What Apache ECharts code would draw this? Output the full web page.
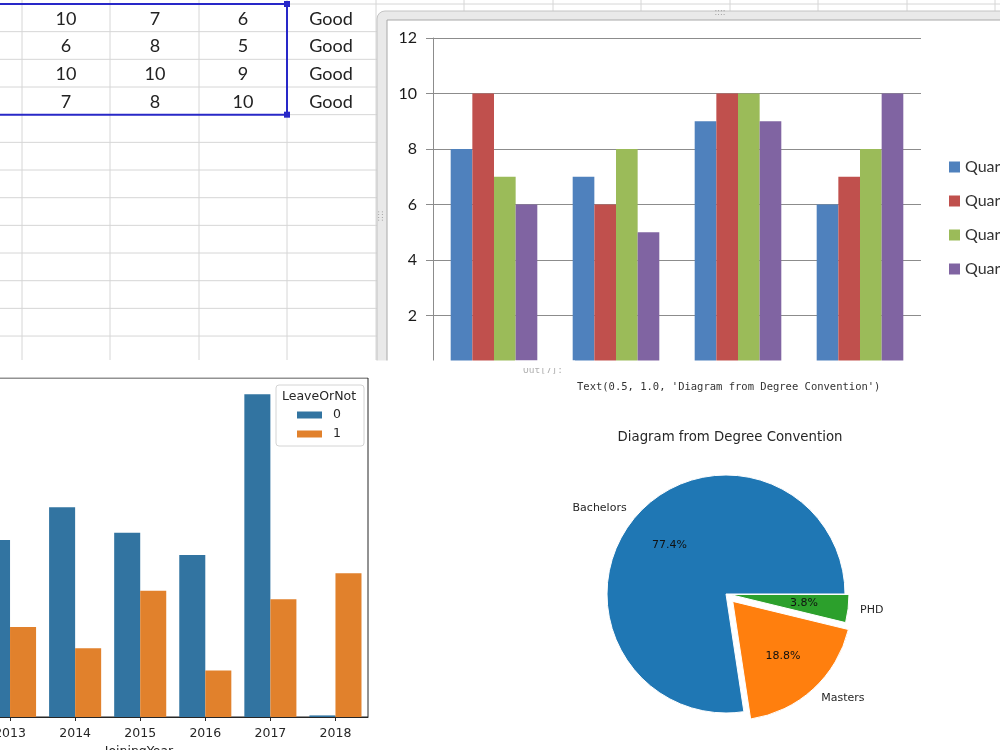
<!DOCTYPE html>
<html>
<head>
<meta charset="utf-8">
<script src="https://cdn.jsdelivr.net/npm/echarts@6/dist/echarts.min.js"></script>
<style>
  html, body { margin: 0; padding: 0; background: #fff; }
  #main { width: 1000px; height: 750px; }
</style>
</head>
<body>
<div id="main"></div>
<script>
// ---- data ----
var rowNames = ['Row 1', 'Row 2', 'Row 3', 'Row 4'];
var quarterNames = ['Quarter 1', 'Quarter 2', 'Quarter 3', 'Quarter 4'];
var quarter1 = [8, 7, 9, 6];
var quarter2 = [10, 6, 10, 7];
var quarter3 = [7, 8, 10, 8];
var quarter4 = [6, 5, 9, 10];
var rowStatus = ['Good', 'Good', 'Good', 'Good'];

var joiningYears = ['2013', '2014', '2015', '2016', '2017', '2018'];
var stayed = [445, 527, 463, 407, 811, 4];
var leftCompany = [226, 173, 317, 117, 296, 361];

var degreeNames = ['Bachelors', 'Masters', 'PHD'];
var degreeShare = [77.4, 18.8, 3.8];

// ---- styling ----
var excelColors = ['#4f81bd', '#c0504d', '#9bbb59', '#8064a2'];
var seabornColors = ['#3274a1', '#e1812c'];
var degreeColors = ['#1f77b4', '#ff7f0e', '#2ca02c'];

var myChart = echarts.init(document.getElementById('main'), null, { width: 1000, height: 750 });

// spreadsheet behind the Excel chart
var graphics = [];
var colLines = [22, 110, 199, 287, 376, 464, 553, 641, 730, 818, 907, 995];
var rowH = 27.67;
colLines.forEach(function (x) {
  graphics.push({ type: 'line', z: 0, shape: { x1: x, y1: 0, x2: x, y2: 360 }, style: { stroke: '#d6d6d6', lineWidth: 1 } });
});
for (var k = 0; k <= 12; k++) {
  var yy = 4 + k * rowH;
  graphics.push({ type: 'line', z: 0, shape: { x1: 0, y1: yy, x2: 1000, y2: yy }, style: { stroke: '#d6d6d6', lineWidth: 1 } });
}
var cellCols = [66, 155, 243, 331];
rowNames.forEach(function (r, i) {
  var cells = [quarter2[i], quarter3[i], quarter4[i], rowStatus[i]];
  cells.forEach(function (v, j) {
    graphics.push({
      type: 'text', z: 1, x: cellCols[j], y: 4 + rowH * (i + 0.5) + 1,
      style: { text: String(v), font: '18px Lato', fill: '#222', textAlign: 'center', textVerticalAlign: 'middle', align: 'center', verticalAlign: 'middle' }
    });
  });
});
// selection box
graphics.push({ type: 'rect', z: 2, shape: { x: -5, y: 4, width: 292, height: 4 * rowH }, style: { fill: 'none', stroke: '#2828c8', lineWidth: 2 } });
graphics.push({ type: 'rect', z: 2, shape: { x: 284, y: 1, width: 6, height: 6 }, style: { fill: '#2828c8' } });
graphics.push({ type: 'rect', z: 2, shape: { x: 284, y: 4 * rowH + 1, width: 6, height: 6 }, style: { fill: '#2828c8' } });
// Excel chart frame
graphics.push({ type: 'rect', z: 3, shape: { x: 377, y: 11, width: 640, height: 360, r: 8 }, style: { fill: '#e9e9e9', stroke: '#c4c4c4', lineWidth: 1 } });
graphics.push({ type: 'rect', z: 4, shape: { x: 387, y: 20, width: 630, height: 350 }, style: { fill: '#fff', stroke: '#a8a8a8', lineWidth: 1 } });
graphics.push({ type: 'text', z: 4, x: 720, y: 13, style: { text: '::::', font: '8px "DejaVu Sans"', fill: '#999', textAlign: 'center', textVerticalAlign: 'middle', align: 'center', verticalAlign: 'middle' } });
graphics.push({ type: 'text', z: 4, x: 381, y: 216, rotation: Math.PI / 2, style: { text: '::::', font: '8px "DejaVu Sans"', fill: '#999', textAlign: 'center', textVerticalAlign: 'middle', align: 'center', verticalAlign: 'middle' } });

// cut-off between the screenshots
graphics.push({ type: 'rect', z: 50, shape: { x: 0, y: 360.5, width: 1000, height: 17 }, style: { fill: '#fff' } });
graphics.push({ type: 'text', z: 51, x: 523, y: 371, style: { text: 'Out[7]:', font: '9.5px "DejaVu Sans Mono"', fill: '#b0b0b0', textVerticalAlign: 'middle', verticalAlign: 'middle' } });
graphics.push({ type: 'rect', z: 52, shape: { x: 515, y: 360.5, width: 60, height: 7.5 }, style: { fill: '#fff' } });
graphics.push({ type: 'text', z: 51, x: 577, y: 387, style: { text: "Text(0.5, 1.0, 'Diagram from Degree Convention')", font: '10.5px "DejaVu Sans Mono"', fill: '#333', textVerticalAlign: 'middle', verticalAlign: 'middle' } });

// pie title
graphics.push({ type: 'text', z: 51, x: 730, y: 438, style: { text: 'Diagram from Degree Convention', font: '13.3px "DejaVu Sans"', fill: '#262626', textAlign: 'center', textVerticalAlign: 'middle', align: 'center', verticalAlign: 'middle' } });

// seaborn legend frame and title, x axis name
graphics.push({ type: 'rect', z: 51, shape: { x: 276, y: 385, width: 88, height: 61, r: 3 }, style: { fill: 'rgba(255,255,255,0.8)', stroke: '#d4d4d4', lineWidth: 1 } });
graphics.push({ type: 'text', z: 52, x: 319, y: 397, style: { text: 'LeaveOrNot', font: '12.5px "DejaVu Sans"', fill: '#262626', textAlign: 'center', textVerticalAlign: 'middle', align: 'center', verticalAlign: 'middle' } });
graphics.push({ type: 'text', z: 51, x: 139, y: 745, style: { text: 'JoiningYear', font: '12.5px "DejaVu Sans"', fill: '#262626', textAlign: 'center', textVerticalAlign: 'top', align: 'center', verticalAlign: 'top' } });

// ---- series ----
var series = [];
[quarter1, quarter2, quarter3, quarter4].forEach(function (vals, i) {
  series.push({
    name: quarterNames[i], type: 'bar', xAxisIndex: 0, yAxisIndex: 0, data: vals,
    barGap: '0%', barCategoryGap: '29%', itemStyle: { color: excelColors[i] },
    z: 10, emphasis: { disabled: true }
  });
});
[stayed, leftCompany].forEach(function (vals, i) {
  series.push({
    name: String(i), type: 'bar', xAxisIndex: 1, yAxisIndex: 1, data: vals,
    barGap: '0%', barCategoryGap: '20%', itemStyle: { color: seabornColors[i] },
    z: 10, emphasis: { disabled: true }
  });
});

var nameLabel = { position: 'outside', formatter: '{b}', fontSize: 11, color: '#262626', fontFamily: 'DejaVu Sans', distanceToLabelLine: 0, textBorderWidth: 0 };
var pctLabel = { position: 'inside', formatter: '{d}%', fontSize: 11, color: '#111', fontFamily: 'DejaVu Sans', textBorderWidth: 0 };

function degreePie(opts) {
  return {
    type: 'pie', center: [726, 594], radius: opts.radius, startAngle: 0, clockwise: false,
    selectedMode: 'multiple', selectedOffset: opts.offset, avoidLabelOverlap: false,
    percentPrecision: 1, z: 10, silent: true, emphasis: { disabled: true },
    label: opts.label, labelLine: { show: false, length: 12, length2: 0 },
    data: degreeNames.map(function (name, i) {
      var mine = opts.items.indexOf(i) >= 0;
      return {
        name: name, value: degreeShare[i], selected: opts.selected.indexOf(i) >= 0,
        itemStyle: (mine && opts.fill) ? { color: degreeColors[i], borderColor: '#fff', borderWidth: 1 } : { color: 'rgba(0,0,0,0)', borderWidth: 0 },
        label: { show: mine }
      };
    })
  };
}
series.push(degreePie({ radius: 119, offset: 10, items: [0, 1], selected: [1], fill: true, label: nameLabel }));
series.push(degreePie({ radius: 119, offset: 4, items: [2], selected: [2], fill: true, label: nameLabel }));
series.push(degreePie({ radius: 143, offset: 10, items: [0, 1], selected: [1], fill: false, label: pctLabel }));
series.push(degreePie({ radius: 143, offset: 4, items: [2], selected: [2], fill: false, label: pctLabel }));

var option = {
  backgroundColor: '#fff',
  animation: false,
  graphic: { elements: graphics },
  grid: [
    { left: 433, right: 79, top: 38, bottom: 379, z: 10, outerBoundsMode: 'none' },
    { left: -22.5, right: 632, top: 378, bottom: 33, show: true, borderColor: '#262626', borderWidth: 1, backgroundColor: 'transparent', z: 10, outerBoundsMode: 'none' }
  ],
  xAxis: [
    { gridIndex: 0, type: 'category', data: rowNames, axisLine: { show: false }, axisTick: { show: false }, axisLabel: { show: false }, z: 10 },
    {
      gridIndex: 1, type: 'category', data: joiningYears, z: 10,
      axisLine: { show: true, lineStyle: { color: '#262626' } },
      axisTick: { show: true, alignWithLabel: true, length: 4, lineStyle: { color: '#262626' } },
      axisLabel: { fontSize: 12.5, color: '#262626', fontFamily: 'DejaVu Sans', margin: 10 }
    }
  ],
  yAxis: [
    {
      gridIndex: 0, type: 'value', min: 0, max: 12, interval: 2, z: 10,
      axisLine: { show: true, lineStyle: { color: '#8c8c8c' } },
      axisTick: { show: true, length: 7, lineStyle: { color: '#8c8c8c' } },
      axisLabel: { fontSize: 16, color: '#1a1a1a', fontFamily: 'Lato', margin: 16 },
      splitLine: { show: true, lineStyle: { color: '#8c8c8c', width: 1 } }
    },
    { gridIndex: 1, type: 'value', min: 0, max: 852, show: false, splitLine: { show: false } }
  ],
  legend: [
    {
      data: quarterNames, orient: 'vertical', left: 949, top: 159, padding: 0,
      itemWidth: 11, itemHeight: 11, itemGap: 18, icon: 'rect', selectedMode: false, z: 10,
      textStyle: { fontSize: 16, lineHeight: 16, color: '#333', fontFamily: 'Lato' }
    },
    {
      data: ['0', '1'], orient: 'vertical', left: 297, top: 408, padding: 0,
      itemWidth: 25, itemHeight: 7, itemGap: 5, icon: 'rect', selectedMode: false, z: 60,
      textStyle: { fontSize: 12.5, lineHeight: 14, color: '#262626', fontFamily: 'DejaVu Sans', padding: [0, 0, 0, 6] }
    }
  ],
  series: series
};
myChart.setOption(option);
</script>
</body>
</html>
